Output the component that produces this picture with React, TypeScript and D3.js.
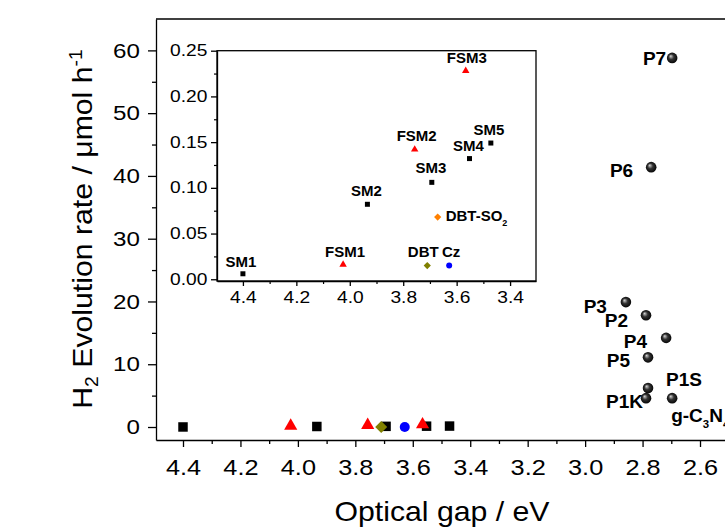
import * as d3 from 'd3'
import { useEffect, useRef } from 'react'

// optical gap (eV) and H2 evolution rate (umol/h)
const smNames = ['SM1', 'SM2', 'SM3', 'SM4', 'SM5']
const smGap = [4.40, 3.934, 3.693, 3.552, 3.472]
const smRate = [0.006, 0.082, 0.106, 0.132, 0.149]

const fsmNames = ['FSM1', 'FSM2', 'FSM3']
const fsmGap = [4.025, 3.757, 3.566]
const fsmRate = [0.016, 0.142, 0.228]

const refNames = ['DBT', 'Cz', 'DBT-SO2']
const refGap = [3.71, 3.628, 3.671]
const refRate = [0.015, 0.015, 0.068]

const polyNames = ['P7', 'P6', 'P3', 'P2', 'P4', 'P5', 'P1S', 'P1K', 'g-C3N4']
const polyGap = [2.697, 2.770, 2.858, 2.788, 2.718, 2.781, 2.781, 2.788, 2.697]
const polyRate = [58.8, 41.4, 19.9, 17.8, 14.2, 11.1, 6.2, 4.6, 4.6]

const mainXTicks = [4.4, 4.2, 4.0, 3.8, 3.6, 3.4, 3.2, 3.0, 2.8, 2.6]
const mainYTicks = [0, 10, 20, 30, 40, 50, 60]
const insetXTicks = [4.4, 4.2, 4.0, 3.8, 3.6, 3.4]
const insetYTicks = [0, 0.05, 0.1, 0.15, 0.2, 0.25]

// label placement: [dx, dy, anchor]
const polyLabelPos: Record<string, [number, number, string]> = {
    'P7': [-6, 7, 'end'],
    'P6': [-18, 10, 'end'],
    'P3': [-19, 11, 'end'],
    'P2': [-18, 12, 'end'],
    'P4': [-19, 10, 'end'],
    'P5': [-18, 10, 'end'],
    'P1S': [18, -2, 'start'],
    'P1K': [-3, 10, 'end'],
    'g-C3N4': [-1, 24, 'start'],
}
const insetLabelPos: Record<string, [number, number, string]> = {
    'SM1': [-2, -7, 'middle'],
    'SM2': [-1, -8, 'middle'],
    'SM3': [-1, -9, 'middle'],
    'SM4': [-1, -8, 'middle'],
    'SM5': [-2, -8, 'middle'],
    'FSM1': [2, -8, 'middle'],
    'FSM2': [2, -8, 'middle'],
    'FSM3': [1, -8, 'middle'],
    'DBT': [-4, -9, 'middle'],
    'Cz': [2, -9, 'middle'],
    'DBT-SO2': [8, 4, 'start'],
}

const FONT = "'Liberation Sans', Arial, sans-serif"

function labelParts(name: string): [string, boolean][] {
    if (name === 'DBT-SO2') return [['DBT-SO', false], ['2', true]]
    if (name === 'g-C3N4') return [['g-C', false], ['3', true], ['N', false], ['4', true]]
    return [[name, false]]
}

function writeLabel(sel: any, name: string, size: number) {
    let shifted = false
    labelParts(name).forEach(([t, sub]) => {
        const ts = sel.append('tspan').text(t)
        if (sub) {
            ts.attr('font-size', size * 0.6).attr('dy', size * 0.3)
            shifted = true
        } else if (shifted) {
            ts.attr('dy', -size * 0.3)
            shifted = false
        }
    })
}

export default function App() {
    const ref = useRef<SVGSVGElement>(null)

    useEffect(() => {
        const svg = d3.select(ref.current)
        svg.selectAll('*').remove()

        const defs = svg.append('defs')
        const grad = defs.append('radialGradient').attr('id', 'ball')
            .attr('cx', '50%').attr('cy', '50%').attr('r', '55%')
            .attr('fx', '35%').attr('fy', '32%')
        grad.append('stop').attr('offset', '0%').attr('stop-color', '#d8d8d8')
        grad.append('stop').attr('offset', '45%').attr('stop-color', '#333')
        grad.append('stop').attr('offset', '100%').attr('stop-color', '#000')

        // main plot
        const left = 156, top = 19, bottom = 440, right = 725
        const x = d3.scaleLinear().domain([4.494, 2.513]).range([left, right])
        const y = d3.scaleLinear().domain([-2.07, 65]).range([bottom, top])

        const styleAxis = (g: any, size: number, sx: number) => {
            g.attr('font-family', FONT).attr('font-size', size)
            g.selectAll('path, line').attr('stroke', '#000').attr('stroke-width', 1.3)
            g.selectAll('text').attr('fill', '#000').attr('transform', `scale(${sx},1)`)
        }

        const xAxis = svg.append('g').attr('transform', `translate(0,${bottom})`)
            .call(d3.axisBottom(x).tickValues(mainXTicks).tickFormat(d3.format('.1f'))
                .tickSize(7).tickPadding(12).tickSizeOuter(0))
        styleAxis(xAxis, 22, 1.15)
        svg.append('g').attr('transform', `translate(0,${bottom})`)
            .call(d3.axisBottom(x).tickValues(d3.range(4.3, 2.5, -0.2)).tickFormat(() => '').tickSize(4))
            .call((g: any) => g.select('.domain').remove())
            .selectAll('line').attr('stroke', '#000').attr('stroke-width', 1.3)

        const yAxis = svg.append('g').attr('transform', `translate(${left},0)`)
            .call(d3.axisLeft(y).tickValues(mainYTicks).tickSize(8).tickPadding(6).tickSizeOuter(0))
        styleAxis(yAxis, 21, 1.15)
        svg.append('g').attr('transform', `translate(${left},0)`)
            .call(d3.axisLeft(y).tickValues(d3.range(5, 60, 10)).tickFormat(() => '').tickSize(4))
            .call((g: any) => g.select('.domain').remove())
            .selectAll('line').attr('stroke', '#000').attr('stroke-width', 1.3)

        svg.append('line').attr('x1', left).attr('x2', right).attr('y1', top).attr('y2', top)
            .attr('stroke', '#000').attr('stroke-width', 1.3)

        // titles
        const xt = svg.append('text').attr('transform', `translate(442,521) scale(1.08,1)`)
            .attr('text-anchor', 'middle').attr('font-family', FONT).attr('font-size', 28)
            .text('Optical gap / eV')
        const yt = svg.append('text').attr('transform', `translate(92,229) rotate(-90) scale(1.08,1)`)
            .attr('text-anchor', 'middle').attr('font-family', FONT).attr('font-size', 28)
        yt.append('tspan').text('H')
        yt.append('tspan').text('2').attr('font-size', 18).attr('dy', 6)
        yt.append('tspan').text(' Evolution rate / μmol h').attr('dy', -6)
        yt.append('tspan').text('-1').attr('font-size', 18).attr('dy', -10)
        void xt

        // small-molecule markers along the bottom of the main plot
        const mainPts = svg.append('g')
        const sym = (type: any, size: number) => d3.symbol().type(type).size(size)()
        smGap.forEach((g, i) => {
            mainPts.append('path').attr('d', sym(d3.symbolSquare, 90))
                .attr('transform', `translate(${x(g)},${y(smRate[i])})`).attr('fill', '#000')
        })
        fsmGap.forEach((g, i) => {
            mainPts.append('path').attr('d', sym(d3.symbolTriangle, 75))
                .attr('transform', `translate(${x(g)},${y(fsmRate[i]) - 1})`).attr('fill', '#ff0000')
        })
        // DBT-SO2 is hidden in the main panel
        refNames.forEach((n, i) => {
            if (n === 'DBT') {
                mainPts.append('path').attr('d', sym(d3.symbolSquare, 72))
                    .attr('transform', `translate(${x(refGap[i])},${y(refRate[i])}) rotate(45)`).attr('fill', '#808000')
            } else if (n === 'Cz') {
                mainPts.append('circle').attr('cx', x(refGap[i])).attr('cy', y(refRate[i])).attr('r', 5)
                    .attr('fill', '#0000ff')
            }
        })

        // polymers
        polyGap.forEach((g, i) => {
            svg.append('circle').attr('cx', x(g)).attr('cy', y(polyRate[i])).attr('r', 5.3)
                .attr('fill', 'url(#ball)')
        })
        polyNames.forEach((n, i) => {
            const [dx, dy, anchor] = polyLabelPos[n]
            const t = svg.append('text').attr('x', x(polyGap[i]) + dx).attr('y', y(polyRate[i]) + dy)
                .attr('text-anchor', anchor).attr('font-family', FONT).attr('font-weight', 'bold')
                .attr('font-size', 19).attr('fill', '#000')
            writeLabel(t, n, 19)
        })

        // inset
        const il = 217, ir = 536, it = 50.7, ib = 281
        const xi = d3.scaleLinear().domain([4.497, 3.303]).range([il, ir])
        const yi = d3.scaleLinear().domain([-0.0019, 0.25]).range([ib, it])

        svg.append('rect').attr('x', il).attr('y', it).attr('width', ir - il).attr('height', ib - it)
            .attr('fill', '#fff').attr('stroke', '#000').attr('stroke-width', 1.3)

        const xiAxis = svg.append('g').attr('transform', `translate(0,${ib})`)
            .call(d3.axisBottom(xi).tickValues(insetXTicks).tickFormat(d3.format('.1f'))
                .tickSize(5).tickPadding(6).tickSizeOuter(0))
        styleAxis(xiAxis, 16, 1.2)
        svg.append('g').attr('transform', `translate(0,${ib})`)
            .call(d3.axisBottom(xi).tickValues(d3.range(4.3, 3.3, -0.2)).tickFormat(() => '').tickSize(3))
            .call((g: any) => g.select('.domain').remove())
            .selectAll('line').attr('stroke', '#000').attr('stroke-width', 1.2)

        const yiAxis = svg.append('g').attr('transform', `translate(${il},0)`)
            .call(d3.axisLeft(yi).tickValues(insetYTicks).tickFormat(d3.format('.2f'))
                .tickSize(6).tickPadding(2).tickSizeOuter(0))
        styleAxis(yiAxis, 16, 1.2)
        svg.append('g').attr('transform', `translate(${il},0)`)
            .call(d3.axisLeft(yi).tickValues(d3.range(0.025, 0.25, 0.05)).tickFormat(() => '').tickSize(3))
            .call((g: any) => g.select('.domain').remove())
            .selectAll('line').attr('stroke', '#000').attr('stroke-width', 1.2)

        const ins = svg.append('g')
        smGap.forEach((g, i) => {
            ins.append('path').attr('d', sym(d3.symbolSquare, 25))
                .attr('transform', `translate(${xi(g)},${yi(smRate[i])})`).attr('fill', '#000')
        })
        fsmGap.forEach((g, i) => {
            ins.append('path').attr('d', sym(d3.symbolTriangle, 24))
                .attr('transform', `translate(${xi(g)},${yi(fsmRate[i])})`).attr('fill', '#ff0000')
        })
        refNames.forEach((n, i) => {
            if (n === 'Cz') {
                ins.append('circle').attr('cx', xi(refGap[i])).attr('cy', yi(refRate[i])).attr('r', 3)
                    .attr('fill', '#0000ff')
            } else {
                ins.append('path').attr('d', sym(d3.symbolSquare, 26))
                    .attr('transform', `translate(${xi(refGap[i])},${yi(refRate[i])}) rotate(45)`)
                    .attr('fill', n === 'DBT' ? '#808000' : '#ff8000')
            }
        })

        const insetLabels = (names: string[], gaps: number[], rates: number[]) => {
            names.forEach((n, i) => {
                const [dx, dy, anchor] = insetLabelPos[n]
                const t = ins.append('text').attr('x', xi(gaps[i]) + dx).attr('y', yi(rates[i]) + dy)
                    .attr('text-anchor', anchor).attr('font-family', FONT).attr('font-weight', 'bold')
                    .attr('font-size', 15).attr('fill', '#000')
                writeLabel(t, n, 15)
            })
        }
        insetLabels(smNames, smGap, smRate)
        insetLabels(fsmNames, fsmGap, fsmRate)
        insetLabels(refNames, refGap, refRate)
    }, [])

    return (
        <svg ref={ref} width={725} height={527}
            style={{ position: 'absolute', left: 0, top: 0, background: '#fff' }} />
    )
}
